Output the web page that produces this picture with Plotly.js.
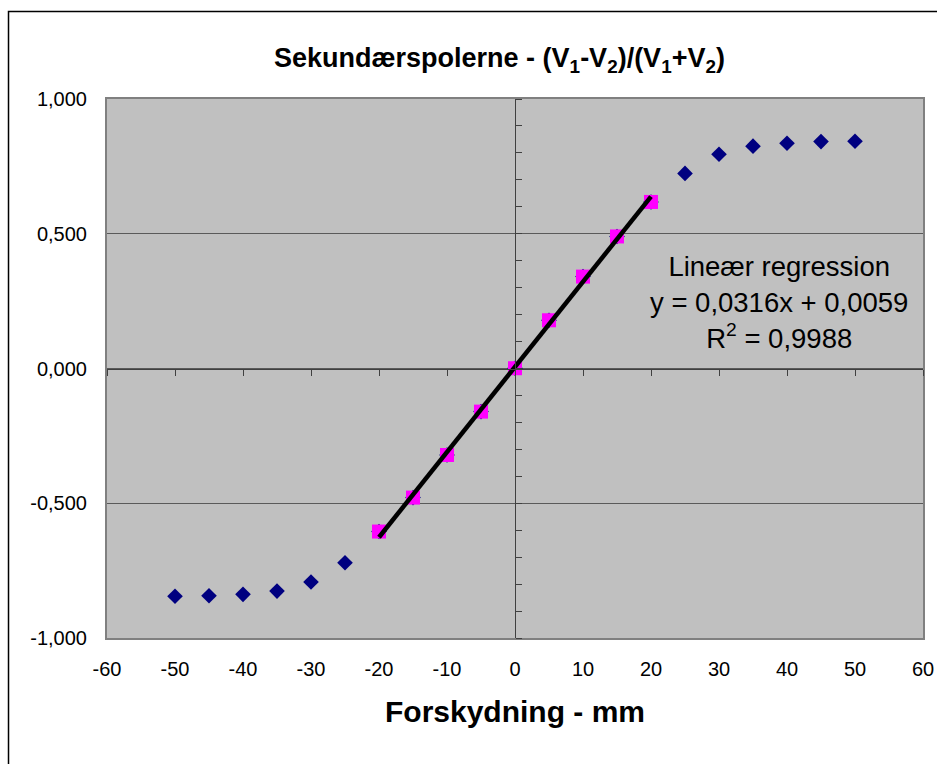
<!DOCTYPE html>
<html>
<head>
<meta charset="utf-8">
<script src="https://cdn.plot.ly/plotly-3.0.1.min.js"></script>
<style>
  html, body { margin: 0; padding: 0; background: #ffffff; }
  #chart { width: 937px; height: 764px; }
</style>
</head>
<body>
<div id="chart"></div>
<script>
// Displacement (mm) – all measurements
const xAll = [-50, -45, -40, -35, -30, -25, -20, -15, -10, -5, 0, 5, 10, 15, 20, 25, 30, 35, 40, 45, 50];
const yAll = [-0.845, -0.843, -0.838, -0.826, -0.792, -0.721, -0.605, -0.479, -0.321, -0.160, 0.001,
              0.179, 0.341, 0.490, 0.618, 0.724, 0.795, 0.825, 0.836, 0.842, 0.843];
// Points used for the linear regression
const xLin = [-20, -15, -10, -5, 0, 5, 10, 15, 20];
const yLin = [-0.605, -0.479, -0.321, -0.160, 0.001, 0.179, 0.341, 0.490, 0.618];
// Regression result (as stated on the chart)
const slope = 0.0316;
const intercept = 0.0059;
const trendX = [-20, 20];
const trendY = trendX.map(x => slope * x + intercept);

const xTickVals = [-60, -50, -40, -30, -20, -10, 0, 10, 20, 30, 40, 50, 60];
const xTickText = ['-60', '-50', '-40', '-30', '-20', '-10', '0', '10', '20', '30', '40', '50', '60'];
const yTickVals = [-1, -0.5, 0, 0.5, 1];
const yTickText = ['-1,000', '-0,500', '0,000', '0,500', '1,000'];

const FONT = '"Liberation Sans", Arial, sans-serif';

const traces = [
  {
    x: xAll, y: yAll, type: 'scatter', mode: 'markers',
    marker: { symbol: 'diamond', size: 12, color: '#000080', line: { width: 0 } },
    showlegend: false, hoverinfo: 'x+y'
  },
  {
    x: xLin, y: yLin, type: 'scatter', mode: 'markers',
    marker: { symbol: 'square', size: 14, color: '#ff00ff', line: { width: 0 } },
    showlegend: false, hoverinfo: 'x+y'
  },
  {
    x: trendX, y: trendY, type: 'scatter', mode: 'lines',
    xaxis: 'x2', yaxis: 'y2',
    line: { color: '#000000', width: 4.5 },
    showlegend: false, hoverinfo: 'skip'
  }
];

const layout = {
  width: 937, height: 764,
  margin: { l: 107, r: 14, t: 99, b: 126, pad: 0 },
  paper_bgcolor: '#ffffff',
  plot_bgcolor: '#c0c0c0',
  font: { family: FONT, color: '#000000' },
  showlegend: false,
  title: {
    text: '<b>Sekundærspolerne - (V<sub>1</sub>-V<sub>2</sub>)/(V<sub>1</sub>+V<sub>2</sub>)</b>',
    font: { family: FONT, size: 27, color: '#000000' },
    xref: 'paper', x: 0.481, xanchor: 'center',
    yref: 'container', y: 1 - 58 / 764, yanchor: 'middle'
  },
  xaxis: {
    range: [-60, 60], tickvals: xTickVals, ticktext: xTickText,
    showgrid: false, zeroline: false, ticks: '',
    showline: true, mirror: true, linecolor: '#808080', linewidth: 2,
    tickfont: { family: FONT, size: 20, color: '#000000' },
    ticklabelstandoff: 12,
    title: { text: '<b>Forskydning - mm</b>', font: { family: FONT, size: 30, color: '#000000' }, standoff: 22 },
    fixedrange: true
  },
  yaxis: {
    range: [-1, 1], tickvals: yTickVals, ticktext: yTickText,
    showgrid: true, gridcolor: '#5a5a5a', gridwidth: 1,
    zeroline: false, ticks: '',
    showline: true, mirror: true, linecolor: '#808080', linewidth: 2,
    tickfont: { family: FONT, size: 20, color: '#000000' },
    ticklabelstandoff: 14,
    fixedrange: true
  },
  xaxis2: {
    overlaying: 'x', anchor: 'free', position: 0.5, side: 'bottom',
    range: [-60, 60], dtick: 10, tick0: 0,
    showgrid: false, zeroline: false, showticklabels: false,
    showline: true, linecolor: '#404040', linewidth: 1,
    ticks: 'outside', ticklen: 6, tickcolor: '#404040', tickwidth: 1,
    fixedrange: true
  },
  yaxis2: {
    overlaying: 'y', anchor: 'free', position: 0.5, side: 'right',
    range: [-1, 1], dtick: 0.5, tick0: 0,
    showgrid: false, zeroline: false, showticklabels: false,
    showline: true, linecolor: '#404040', linewidth: 1,
    ticks: 'outside', ticklen: 6, tickcolor: '#404040', tickwidth: 1,
    minor: { ticks: 'outside', dtick: 0.1, ticklen: 6, tickcolor: '#404040', tickwidth: 1, showgrid: false },
    fixedrange: true
  },
  annotations: [
    {
      text: 'Lineær regression<br>y = 0,0316x + 0,0059<br>R<sup>2</sup> = 0,9988',
      xref: 'paper', yref: 'paper',
      x: (779 - 107) / 816, y: (638 - 302) / 539,
      xanchor: 'center', yanchor: 'middle', align: 'center',
      showarrow: false,
      font: { family: FONT, size: 27.5, color: '#000000' }
    }
  ],
  shapes: [
    {
      type: 'path', xref: 'paper', yref: 'paper', layer: 'above',
      path: 'M -0.1207,-0.3 L -0.1207,1.1625 L 1.2,1.1625',
      line: { color: '#000000', width: 1.5 }
    }
  ]
};

Plotly.newPlot('chart', traces, layout, { displayModeBar: false, staticPlot: true });
</script>
</body>
</html>
